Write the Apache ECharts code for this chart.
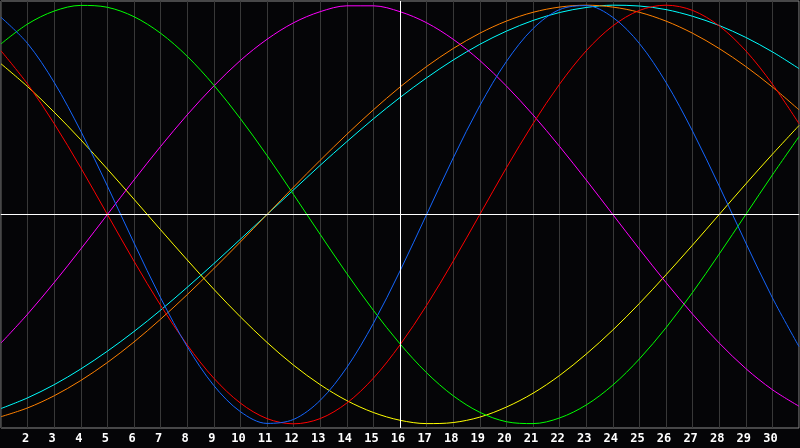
<!DOCTYPE html>
<html>
<head>
<meta charset="utf-8">
<script src="https://cdn.jsdelivr.net/npm/echarts@6/dist/echarts.min.js"></script>
<style>
  html, body { margin: 0; padding: 0; background: #050507; }
  #chart { width: 800px; height: 448px; }
</style>
</head>
<body>
<div id="chart"></div>
<script>
// days of the month, day 1 at the left edge and day 31 at the right edge
const days = [1, 2, 3, 4, 5, 6, 7, 8, 9, 10, 11, 12, 13, 14, 15, 16, 17, 18, 19, 20, 21, 22, 23, 24, 25, 26, 27, 28, 29, 30, 31]
const todayDay = 16

// values in percent (-100 .. 100)
const red = [78.2, 62.3, 43.4, 22.3, 0, -22.3, -43.4, -62.3, -78.2, -90.1, -97.5, -100, -97.5, -90.1, -78.2, -62.3, -43.4, -22.3, 0, 22.3, 43.4, 62.3, 78.2, 90.1, 97.5, 100, 97.5, 90.1, 78.2, 62.3, 43.4]
const blue = [94.2, 81.7, 63.1, 39.8, 13.6, -13.6, -39.8, -63.1, -81.7, -94.2, -99.8, -97.9, -88.8, -73.1, -52.0, -27.0, 0, 27.0, 52.0, 73.1, 88.8, 97.9, 99.8, 94.2, 81.7, 63.1, 39.8, 13.6, -13.6, -39.8, -63.1]
const green = [81.5, 91.0, 97.2, 99.9, 99.0, 94.5, 86.6, 75.6, 61.8, 45.8, 28.2, 9.5, -9.5, -28.2, -45.8, -61.8, -75.6, -86.6, -94.5, -99.0, -99.9, -97.2, -91.0, -81.5, -69.0, -54.1, -37.2, -18.9, 0, 18.9, 37.2]
const magenta = [-61.4, -47.6, -32.5, -16.5, 0, 16.5, 32.5, 47.6, 61.4, 73.6, 83.7, 91.6, 96.9, 99.7, 99.7, 96.9, 91.6, 83.7, 73.6, 61.4, 47.6, 32.5, 16.5, 0, -16.5, -32.5, -47.6, -61.4, -73.6, -83.7, -91.6]
const yellow = [72.0, 61.1, 48.9, 35.7, 21.7, 7.3, -7.3, -21.7, -35.7, -48.9, -61.1, -72.0, -81.3, -88.9, -94.6, -98.3, -99.9, -99.4, -96.8, -92.0, -85.4, -76.9, -66.7, -55.2, -42.5, -28.8, -14.6, 0, 14.6, 28.8, 42.5]
const orange = [-96.6, -92.4, -86.6, -79.3, -70.7, -60.9, -50.0, -38.3, -25.9, -13.1, 0, 13.1, 25.9, 38.3, 50.0, 60.9, 70.7, 79.3, 86.6, 92.4, 96.6, 99.1, 100, 99.1, 96.6, 92.4, 86.6, 79.3, 70.7, 60.9, 50.0]
const cyan = [-92.7, -87.6, -81.3, -73.8, -65.3, -55.9, -45.7, -34.8, -23.5, -11.8, 0, 11.8, 23.5, 34.8, 45.7, 55.9, 65.3, 73.8, 81.3, 87.6, 92.7, 96.5, 98.9, 100.0, 99.6, 97.9, 94.7, 90.3, 84.6, 77.7, 69.7]

const curves = [
  { name: 'cyan', color: '#00ffff', values: cyan },
  { name: 'orange', color: '#ff8000', values: orange },
  { name: 'yellow', color: '#ffff00', values: yellow },
  { name: 'magenta', color: '#ff00ff', values: magenta },
  { name: 'green', color: '#00ff00', values: green },
  { name: 'red', color: '#ff0000', values: red },
  { name: 'blue', color: '#1466ff', values: blue }
]

function toPairs (values) {
  return days.map((d, i) => [d, values[i]])
}

const chart = echarts.init(document.getElementById('chart'), null, { renderer: 'canvas' })

const series = [{
  // white cross: zero line and today
  type: 'line',
  data: [],
  z: 1,
  silent: true,
  markLine: {
    silent: true,
    symbol: ['none', 'none'],
    label: { show: false },
    lineStyle: { color: '#ffffff', width: 1, type: 'solid' },
    data: [{ yAxis: 0 }, { xAxis: todayDay }]
  }
}]

curves.forEach(c => {
  series.push({
    name: c.name,
    type: 'line',
    data: toPairs(c.values),
    smooth: 0.33,
    showSymbol: false,
    silent: true,
    z: 2,
    lineStyle: { color: c.color, width: 1 },
    itemStyle: { color: c.color }
  })
})

chart.setOption({
  backgroundColor: '#050507',
  animation: false,
  grid: {
    left: 1,
    right: 1,
    top: 1,
    bottom: 20,
    show: true,
    borderColor: '#8a8a8a',
    borderWidth: 1
  },
  xAxis: {
    type: 'value',
    min: 1,
    max: 31,
    interval: 1,
    axisLine: { show: true, lineStyle: { color: '#9a9a9a', width: 1 } },
    axisTick: { show: false },
    splitLine: { show: true, lineStyle: { color: '#383838', width: 1 } },
    axisLabel: {
      color: '#ffffff',
      fontFamily: 'DejaVu Sans Mono',
      fontWeight: 'bold',
      fontSize: 12,
      margin: 5,
      showMinLabel: false,
      showMaxLabel: false,
      padding: [0, 4, 0, 0]
    }
  },
  yAxis: {
    type: 'value',
    min: -102,
    max: 102,
    axisLine: { show: false },
    axisTick: { show: false },
    axisLabel: { show: false },
    splitLine: { show: false }
  },
  series: series
})

window.addEventListener('resize', () => chart.resize())
</script>
</body>
</html>
